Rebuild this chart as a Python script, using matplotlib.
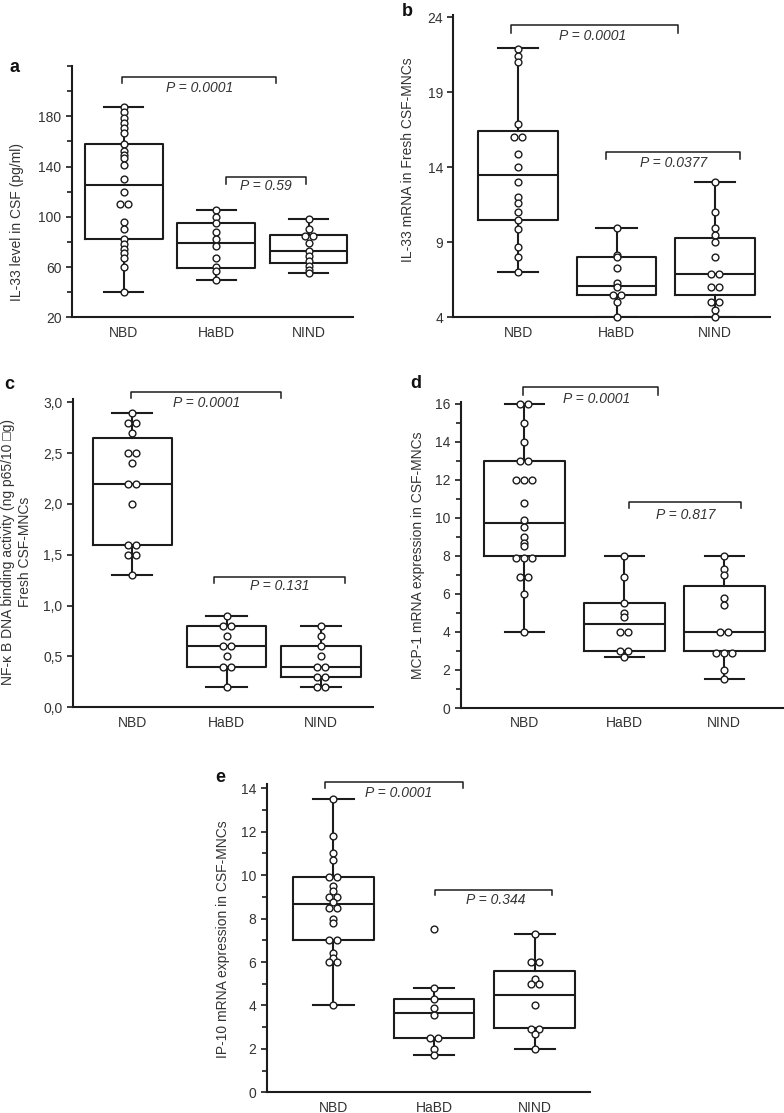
import matplotlib
matplotlib.use('Agg')
import matplotlib.pyplot as plt
from matplotlib.ticker import FixedLocator, FuncFormatter, NullLocator
import numpy as np

plt.rcParams['font.family'] = ['Liberation Sans', 'DejaVu Sans']
plt.rcParams['font.size'] = 10

# ---------------- data ----------------
groups = ['NBD', 'HaBD', 'NIND']

# panel a: IL-33 level in CSF (pg/ml)
a_nbd = [187, 183, 179, 175, 171, 167, 158, 152, 149, 147, 141, 130, 120, 110, 110,
         96, 90, 82, 78, 74, 71, 67, 60, 40]
a_habd = [105, 100, 95, 88, 82, 77, 67, 60, 57, 50]
a_nind = [98, 90, 85, 85, 79, 73, 69, 65, 61, 58, 55]
# [whislo, q1, med, q3, whishi]
a_box = [[40, 82, 125, 158, 187], [50, 59.5, 79, 95, 105], [55, 63.5, 73, 85.5, 98]]
a_p = ['P = 0.0001', 'P = 0.59']

# panel b: IL-33 mRNA in fresh CSF-MNCs
b_nbd = [21.9, 21.4, 21.0, 16.9, 16.0, 16.0, 14.9, 14.0, 13.0, 12.0, 11.6, 11.0, 10.5,
         9.9, 8.7, 8.0, 7.0]
b_habd = [9.97, 8.15, 8.0, 7.27, 6.3, 6.0, 5.5, 5.5, 5.0, 4.0]
b_nind = [13.0, 11.0, 9.93, 9.5, 9.0, 8.0, 6.9, 6.9, 6.0, 6.0, 5.0, 5.0, 4.5, 4.0]
b_box = [[7.0, 10.5, 13.5, 16.45, 21.95], [4.0, 5.5, 6.1, 8.0, 9.97], [4.0, 5.5, 6.87, 9.27, 13.0]]
b_p = ['P = 0.0001', 'P = 0.0377']

# panel c: NF-kB DNA binding activity
c_nbd = [2.9, 2.8, 2.8, 2.7, 2.5, 2.5, 2.4, 2.2, 2.2, 2.0, 1.6, 1.6, 1.5, 1.5, 1.3]
c_habd = [0.9, 0.8, 0.8, 0.7, 0.6, 0.6, 0.5, 0.4, 0.4, 0.2]
c_nind = [0.8, 0.7, 0.6, 0.5, 0.4, 0.4, 0.3, 0.3, 0.2, 0.2]
c_box = [[1.3, 1.6, 2.2, 2.65, 2.9], [0.2, 0.4, 0.6, 0.8, 0.9], [0.2, 0.3, 0.4, 0.6, 0.8]]
c_p = ['P = 0.0001', 'P = 0.131']

# panel d: MCP-1 mRNA expression
d_nbd = [16, 16, 15, 14, 13, 13, 12, 12, 12, 10.8, 9.9, 9.5, 9.0, 8.7, 8.5, 7.9, 7.9, 7.9,
         6.9, 6.9, 6.0, 4.0]
d_habd = [8.0, 6.9, 5.5, 5.0, 4.8, 4.0, 4.0, 3.0, 3.0, 2.7]
d_nind = [8.0, 7.3, 7.0, 5.8, 5.4, 4.0, 4.0, 2.9, 2.9, 2.9, 2.0, 1.5]
d_box = [[4.0, 8.0, 9.75, 13.0, 16.0], [2.7, 3.0, 4.4, 5.5, 8.0], [1.5, 3.0, 4.0, 6.4, 8.0]]
d_p = ['P = 0.0001', 'P = 0.817']

# panel e: IP-10 mRNA expression
e_nbd = [13.5, 11.8, 11.0, 10.7, 9.9, 9.9, 9.5, 9.25, 9.0, 9.0, 8.75, 8.5, 8.5, 8.0, 7.8,
         7.0, 7.0, 6.4, 6.2, 6.0, 6.0, 4.0]
e_habd = [7.5, 4.8, 4.3, 3.9, 3.55, 2.5, 2.5, 2.0, 1.7]
e_nind = [7.3, 6.0, 6.0, 5.2, 5.0, 5.0, 4.0, 2.9, 2.9, 2.7, 2.0]
e_box = [[4.0, 7.0, 8.65, 9.92, 13.5], [1.7, 2.5, 3.64, 4.3, 4.8], [2.0, 2.95, 4.5, 5.6, 7.3]]
e_p = ['P = 0.0001', 'P = 0.344']

ylabels = {
    'a': 'IL-33 level in CSF (pg/ml)',
    'b': 'IL-33 mRNA in Fresh CSF-MNCs',
    'c': 'NF-\u03ba B DNA binding activity (ng p65/10 \u25a1g)\nFresh CSF-MNCs',
    'd': 'MCP-1 mRNA expression in CSF-MNCs',
    'e': 'IP-10 mRNA expression in CSF-MNCs',
}

# ---------------- layout / style ----------------
W, H = 784, 1113
fig = plt.figure(figsize=(W / 100, H / 100), dpi=100)

INK = '#1c1c1c'
TXT = '#333333'
LW = 1.5


def px_rect(left, right, bottom, top):
    return [left / W, 1 - bottom / H, (right - left) / W, (bottom - top) / H]


def panel(rect, pts, box, pvals, brackets, ylim, xlim, major, minor, ylab,
          labx, laby, bw, cw, step, fmt=None):
    ax = fig.add_axes(rect)
    stats = []
    for b in box:
        stats.append(dict(whislo=b[0], q1=b[1], med=b[2], q3=b[3], whishi=b[4], fliers=[]))
    pos = [1, 2, 3]
    ax.bxp(stats, positions=pos, widths=bw, capwidths=cw, showfliers=False,
           boxprops=dict(color=INK, linewidth=LW),
           whiskerprops=dict(color=INK, linewidth=LW),
           capprops=dict(color=INK, linewidth=LW),
           medianprops=dict(color=INK, linewidth=LW),
           manage_ticks=False, zorder=2)
    for p, vals in zip(pos, pts):
        vals = np.asarray(vals, dtype=float)
        xs = np.zeros_like(vals)
        uniq = {}
        for i, v in enumerate(vals):
            uniq.setdefault(round(v, 4), []).append(i)
        for v, idx in uniq.items():
            n = len(idx)
            offs = (np.arange(n) - (n - 1) / 2) * step
            for k, i in enumerate(idx):
                xs[i] = offs[k]
        ax.plot(p + xs, vals, 'o', ms=4.9, mfc='white', mec=INK, mew=1.0,
                zorder=3, clip_on=False)
    for (x1, x2, yt, yb, tx, ty), txt in zip(brackets, pvals):
        ax.plot([x1, x1, x2, x2], [yb, yt, yt, yb], color=INK, lw=1.1,
                clip_on=False, zorder=2)
        ax.text(tx, ty, txt, ha='center', va='center', fontstyle='italic',
                fontsize=10, color=TXT)
    ax.set_xlim(*xlim)
    ax.set_ylim(*ylim)
    ax.set_xticks(pos)
    ax.set_xticklabels(groups, fontsize=10, color=TXT)
    ax.tick_params(axis='x', length=0, pad=6)
    ax.yaxis.set_major_locator(FixedLocator(major))
    if minor:
        ax.yaxis.set_minor_locator(FixedLocator(minor))
    else:
        ax.yaxis.set_minor_locator(NullLocator())
    if fmt is not None:
        ax.yaxis.set_major_formatter(FuncFormatter(fmt))
    ax.tick_params(axis='y', which='major', length=4.5, width=1.2, color=INK,
                   labelsize=10, labelcolor=TXT, pad=3, direction='out')
    ax.tick_params(axis='y', which='minor', length=3.5, width=1.2, color=INK,
                   direction='out')
    for s in ['top', 'right']:
        ax.spines[s].set_visible(False)
    for s in ['left', 'bottom']:
        ax.spines[s].set_linewidth(LW)
        ax.spines[s].set_color(INK)
    ax.set_ylabel(ylab, fontsize=10, color=TXT, ha='center', va='center')
    ax.yaxis.set_label_coords(labx, laby)
    ax.patch.set_alpha(0)
    return ax


# panel a
panel(px_rect(72, 353, 317.3, 66), [a_nbd, a_habd, a_nind], a_box, a_p,
      [(0.98, 2.65, 211, 206.5, 1.82, 202.5), (2.11, 2.975, 131.6, 126.3, 2.54, 124.1)],
      (20, 220), (0.44, 3.48), [20, 60, 100, 140, 180], [40, 80, 120, 160, 200, 220],
      ylabels['a'], -0.196, 0.38, 0.84, 0.42, 0.086)

# panel b
panel(px_rect(453.3, 770, 317.3, 15), [b_nbd, b_habd, b_nind], b_box, b_p,
      [(0.93, 2.62, 23.49, 22.97, 1.76, 22.75), (1.89, 3.26, 15.0, 14.53, 2.58, 14.3)],
      (4, 24.15), (0.34, 3.56), [4, 9, 14, 19, 24], None,
      ylabels['b'], -0.143, 0.52, 0.81, 0.41, 0.082)

# panel c
panel(px_rect(72.7, 373, 707.3, 399.3), [c_nbd, c_habd, c_nind], c_box, c_p,
      [(0.99, 2.58, 3.106, 3.04, 1.79, 2.99), (1.87, 3.25, 1.285, 1.226, 2.56, 1.19)],
      (0, 3.03), (0.37, 3.55), [0, 0.5, 1.0, 1.5, 2.0, 2.5, 3.0], None,
      ylabels['c'], -0.187, 0.505, 0.84, 0.43, 0.085,
      fmt=lambda v, p: f"{v:.1f}".replace('.', ','))

# panel d
panel(px_rect(460.7, 783, 708, 402), [d_nbd, d_habd, d_nind], d_box, d_p,
      [(0.99, 2.34, 16.9, 16.47, 1.72, 16.28), (2.05, 3.17, 10.86, 10.5, 2.62, 10.18)],
      (0, 16.1), (0.364, 3.59), list(range(0, 17, 2)), list(range(1, 16, 2)),
      ylabels['d'], -0.1316, 0.5, 0.81, 0.39, 0.08)

# panel e
panel(px_rect(266.7, 590, 1092.3, 784), [e_nbd, e_habd, e_nind], e_box, e_p,
      [(0.92, 2.29, 14.28, 14.03, 1.65, 13.8), (2.01, 3.17, 9.32, 9.07, 2.61, 8.86)],
      (0, 14.2), (0.337, 3.55), list(range(0, 15, 2)), list(range(1, 14, 2)),
      ylabels['e'], -0.134, 0.497, 0.80, 0.40, 0.08)

# panel letters
for lab, (x, y) in {'a': (14, 67), 'b': (407, 11), 'c': (9, 385),
                    'd': (416, 384), 'e': (220, 777)}.items():
    fig.text(x / W, 1 - y / H, lab, ha='center', va='center', fontsize=13,
             fontweight='bold', color='#111111')

fig.savefig('out.png', dpi=100)
